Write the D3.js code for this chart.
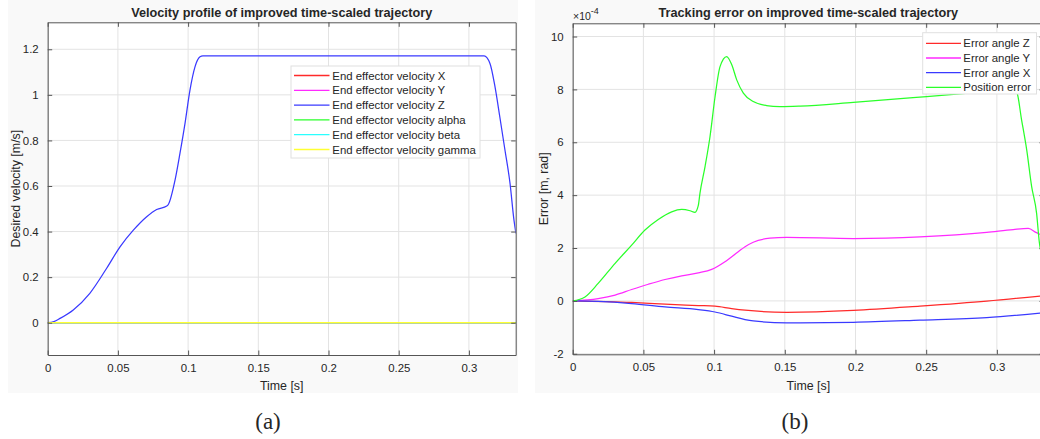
<!DOCTYPE html>
<html>
<head>
<meta charset="utf-8">
<script src="https://cdn.jsdelivr.net/npm/d3@7"></script>
<style>
  html, body { margin: 0; padding: 0; background: #ffffff; }
  svg { display: block; }
  text { font-family: "Liberation Sans", Arial, Helvetica, sans-serif; fill: #262626; }
</style>
</head>
<body>
<svg id="fig" width="1040" height="439"></svg>
<script>
// ---- Panel (a): desired end-effector velocity ----
const velTime = [0, 0.0044, 0.0088, 0.0182, 0.030, 0.042, 0.0515, 0.061, 0.0705, 0.0776, 0.0848,
  0.086, 0.0907, 0.0942, 0.0978, 0.1013, 0.1049, 0.1085, 0.1105, 0.3108, 0.315, 0.3186, 0.322,
  0.3257, 0.3293, 0.3321, 0.3335];
const velZ = [0, 0.005, 0.019, 0.056, 0.129, 0.239, 0.333, 0.406, 0.465, 0.497, 0.512,
  0.52, 0.626, 0.743, 0.875, 1.02, 1.123, 1.167, 1.171, 1.171, 1.138, 1.035, 0.904,
  0.757, 0.611, 0.45, 0.392];
const zeroTime = [0, 0.3335];
const velX = [0, 0];
const velY = [0, 0];
const velAlpha = [0, 0];
const velBeta = [0, 0];
const velGamma = [0, 0];
const velLabels = ["End effector velocity X", "End effector velocity Y", "End effector velocity Z",
  "End effector velocity alpha", "End effector velocity beta", "End effector velocity gamma"];
const velXTicks = [0, 0.05, 0.1, 0.15, 0.2, 0.25, 0.3];
const velYTicks = [0, 0.2, 0.4, 0.6, 0.8, 1, 1.2];

// ---- Panel (b): tracking error (values in units of 1e-4) ----
const posErrTime = [0, 0.0087, 0.018, 0.030, 0.0417, 0.0511, 0.0605, 0.070, 0.0771, 0.083, 0.0865,
  0.0888, 0.090, 0.0936, 0.0971, 0.1007, 0.1042, 0.1089, 0.1125, 0.116, 0.1207, 0.1277, 0.137,
  0.1466, 0.1608, 0.1985, 0.2503, 0.28, 0.30, 0.3105, 0.314, 0.3175, 0.3211, 0.3246, 0.3281,
  0.3300, 0.3333];
const posErr = [0, 0.15, 0.66, 1.42, 2.11, 2.68, 3.08, 3.37, 3.46, 3.41, 3.35,
  3.6, 4.07, 5.08, 6.21, 7.73, 8.86, 9.24, 8.93, 8.36, 7.86, 7.54, 7.39,
  7.35, 7.37, 7.51, 7.73, 7.86, 7.95, 8.0, 7.9, 6.84, 5.71, 4.32, 3.31,
  2.23, 1.5];
const angYTime = [0, 0.018, 0.030, 0.0417, 0.0535, 0.0653, 0.0771, 0.0888, 0.0983, 0.1077, 0.1171,
  0.1219, 0.1277, 0.1395, 0.1513, 0.1985, 0.2456, 0.2928, 0.3116, 0.3222, 0.328, 0.3333];
const errAngleY = [0, 0.09, 0.22, 0.43, 0.63, 0.81, 0.95, 1.06, 1.19, 1.48, 1.86,
  2.05, 2.22, 2.37, 2.40, 2.36, 2.42, 2.59, 2.70, 2.74, 2.58, 2.45];
const angZTime = [0, 0.0417, 0.0653, 0.0888, 0.1006, 0.1124, 0.1219, 0.1513, 0.1985, 0.2456, 0.2928, 0.3333];
const errAngleZ = [0, -0.06, -0.125, -0.175, -0.2, -0.29, -0.35, -0.43, -0.36, -0.2, -0.01, 0.2];
const angXTime = [0, 0.018, 0.0417, 0.0653, 0.0888, 0.1006, 0.1124, 0.1219, 0.1277, 0.1513, 0.1985,
  0.2456, 0.2928, 0.3333];
const errAngleX = [0, -0.02, -0.1, -0.23, -0.33, -0.42, -0.58, -0.71, -0.76, -0.83, -0.81,
  -0.73, -0.63, -0.45];
const errLabels = ["Error angle Z", "Error angle Y", "Error angle X", "Position error"];
const errXTicks = [0, 0.05, 0.1, 0.15, 0.2, 0.25, 0.3];
const errYTicks = [-2, 0, 2, 4, 6, 8, 10];

const C = { r: "#ff2a2a", m: "#ff2aff", b: "#3a3aff", g: "#2aff2a", c: "#2affff", y: "#ffff33" };

const svg = d3.select("#fig");

// light figure backgrounds behind each panel
svg.append("rect").attr("x", 8).attr("y", 0).attr("width", 510).attr("height", 393).attr("fill", "#f9f9f9");
svg.append("rect").attr("x", 535).attr("y", 0).attr("width", 505).attr("height", 393).attr("fill", "#f9f9f9");

function fmt(d) { return String(+d.toFixed(3)); }

function panel(opt) {
  const g = svg.append("g");
  const x = d3.scaleLinear().domain(opt.xDomain).range([opt.left, opt.right]);
  const y = d3.scaleLinear().domain(opt.yDomain).range([opt.bottom, opt.top]);

  // plot area
  g.append("rect").attr("x", opt.left).attr("y", opt.top)
    .attr("width", opt.right - opt.left).attr("height", opt.bottom - opt.top).attr("fill", "#ffffff");

  // grid
  const grid = g.append("g").attr("stroke", "#e3e3e3").attr("stroke-width", 1);
  opt.xTicks.forEach(t => grid.append("line").attr("x1", x(t)).attr("x2", x(t))
    .attr("y1", opt.top).attr("y2", opt.bottom));
  opt.yTicks.forEach(t => grid.append("line").attr("x1", opt.left).attr("x2", opt.right)
    .attr("y1", y(t)).attr("y2", y(t)));

  // series
  const clipId = "clip" + opt.id;
  svg.append("clipPath").attr("id", clipId).append("rect")
    .attr("x", opt.left).attr("y", opt.top).attr("width", opt.right - opt.left).attr("height", opt.bottom - opt.top);
  const lines = g.append("g").attr("clip-path", `url(#${clipId})`);
  const lineGen = d3.line().x(d => x(d[0])).y(d => y(d[1])).curve(d3.curveMonotoneX);
  opt.series.forEach(s => {
    lines.append("path").datum(d3.zip(s.t, s.v)).attr("d", lineGen)
      .attr("fill", "none").attr("stroke", s.color).attr("stroke-width", 1.25);
  });

  // axes (box with inward ticks on all sides)
  const axisColor = "#555555";
  const tickLen = 4.5;
  const bottomAxis = d3.axisBottom(x).tickValues(opt.xTicks).tickFormat(fmt).tickSizeInner(-tickLen).tickSizeOuter(0).tickPadding(9);
  const topAxis = d3.axisTop(x).tickValues(opt.xTicks).tickFormat("").tickSizeInner(-tickLen).tickSizeOuter(0);
  const leftAxis = d3.axisLeft(y).tickValues(opt.yTicks).tickFormat(fmt).tickSizeInner(-tickLen).tickSizeOuter(0).tickPadding(9);
  const rightAxis = d3.axisRight(y).tickValues(opt.yTicks).tickFormat("").tickSizeInner(-tickLen).tickSizeOuter(0);

  const axes = [
    g.append("g").attr("transform", `translate(0,${opt.bottom})`).call(bottomAxis),
    g.append("g").attr("transform", `translate(0,${opt.top})`).call(topAxis),
    g.append("g").attr("transform", `translate(${opt.left},0)`).call(leftAxis),
    g.append("g").attr("transform", `translate(${opt.right},0)`).call(rightAxis)
  ];
  axes.forEach(a => {
    a.select(".domain").attr("stroke", axisColor).attr("stroke-width", 1);
    a.selectAll(".tick line").attr("stroke", axisColor);
    a.selectAll(".tick text").attr("fill", "#262626").style("font-size", "11.4px")
      .style("font-family", "'Liberation Sans', Arial, sans-serif");
  });

  // title and labels
  g.append("text").attr("x", (opt.left + opt.right) / 2).attr("y", 16.5)
    .attr("text-anchor", "middle").style("font-size", "12.7px").style("font-weight", "bold")
    .attr("fill", "#111").text(opt.title);
  g.append("text").attr("x", (opt.left + opt.right) / 2).attr("y", 390)
    .attr("text-anchor", "middle").style("font-size", "12.4px").text(opt.xLabel);
  g.append("text").attr("transform", `translate(${opt.yLabelX},${(opt.top + opt.bottom) / 2}) rotate(-90)`)
    .attr("text-anchor", "middle").style("font-size", "12.4px").text(opt.yLabel);

  // legend
  const L = opt.legend;
  const lg = g.append("g");
  lg.append("rect").attr("x", L.x0).attr("y", L.y0).attr("width", L.x1 - L.x0).attr("height", L.y1 - L.y0)
    .attr("fill", "#ffffff").attr("stroke", "#e0e0e0").attr("stroke-width", 1);
  L.items.forEach((it, i) => {
    const yy = L.firstY + i * L.step;
    lg.append("line").attr("x1", L.lineX0).attr("x2", L.lineX1).attr("y1", yy).attr("y2", yy)
      .attr("stroke", it.color).attr("stroke-width", 1.3);
    lg.append("text").attr("x", L.textX).attr("y", yy + 4).style("font-size", "11.4px").text(it.label);
  });
  return { x, y, g };
}

// Panel (a)
const velSeries = [
  { t: zeroTime, v: velX, color: C.r },
  { t: zeroTime, v: velY, color: C.m },
  { t: velTime, v: velZ, color: C.b },
  { t: zeroTime, v: velAlpha, color: C.g },
  { t: zeroTime, v: velBeta, color: C.c },
  { t: zeroTime, v: velGamma, color: C.y }
];
panel({
  id: "a", left: 47.7, right: 515.7, top: 22.3, bottom: 355,
  xDomain: [0, 0.33333], yDomain: [-0.1417, 1.3184],
  xTicks: velXTicks, yTicks: velYTicks,
  series: velSeries,
  title: "Velocity profile of improved time-scaled trajectory",
  xLabel: "Time [s]", yLabel: "Desired velocity [m/s]", yLabelX: 19.5,
  legend: {
    x0: 291, y0: 66, x1: 480, y1: 158, firstY: 75.5, step: 14.8,
    lineX0: 294, lineX1: 329.5, textX: 332.3,
    items: velLabels.map((l, i) => ({ label: l, color: velSeries[i].color }))
  }
});

// Panel (b)
const errSeries = [
  { t: angZTime, v: errAngleZ, color: C.r },
  { t: angYTime, v: errAngleY, color: C.m },
  { t: angXTime, v: errAngleX, color: C.b },
  { t: posErrTime, v: posErr, color: C.g }
];
const pb = panel({
  id: "b", left: 572.7, right: 1044, top: 23.3, bottom: 354.3,
  xDomain: [0, 0.33333], yDomain: [-2.02, 10.5],
  xTicks: errXTicks, yTicks: errYTicks,
  series: errSeries,
  title: "Tracking error on improved time-scaled trajectory",
  xLabel: "Time [s]", yLabel: "Error [m, rad]", yLabelX: 547.5,
  legend: {
    x0: 922.7, y0: 32.7, x1: 1036.5, y1: 94, firstY: 43.3, step: 14.7,
    lineX0: 926, lineX1: 961, textX: 963.3,
    items: errLabels.map((l, i) => ({ label: l, color: errSeries[i].color }))
  }
});

// exponent label of the error axis
const expo = pb.g.append("text").attr("x", 573).attr("y", 19.5).style("font-size", "10.5px").attr("fill", "#555");
expo.append("tspan").text("\u00d710");
expo.append("tspan").attr("dy", -6).style("font-size", "9px").text("-4");

// sub-figure captions
svg.append("text").attr("x", 268).attr("y", 429).attr("text-anchor", "middle")
  .style("font-family", "'Liberation Serif', 'DejaVu Serif', serif").style("font-size", "23px").attr("fill", "#111").text("(a)");
svg.append("text").attr("x", 795).attr("y", 429).attr("text-anchor", "middle")
  .style("font-family", "'Liberation Serif', 'DejaVu Serif', serif").style("font-size", "23px").attr("fill", "#111").text("(b)");
</script>
</body>
</html>
